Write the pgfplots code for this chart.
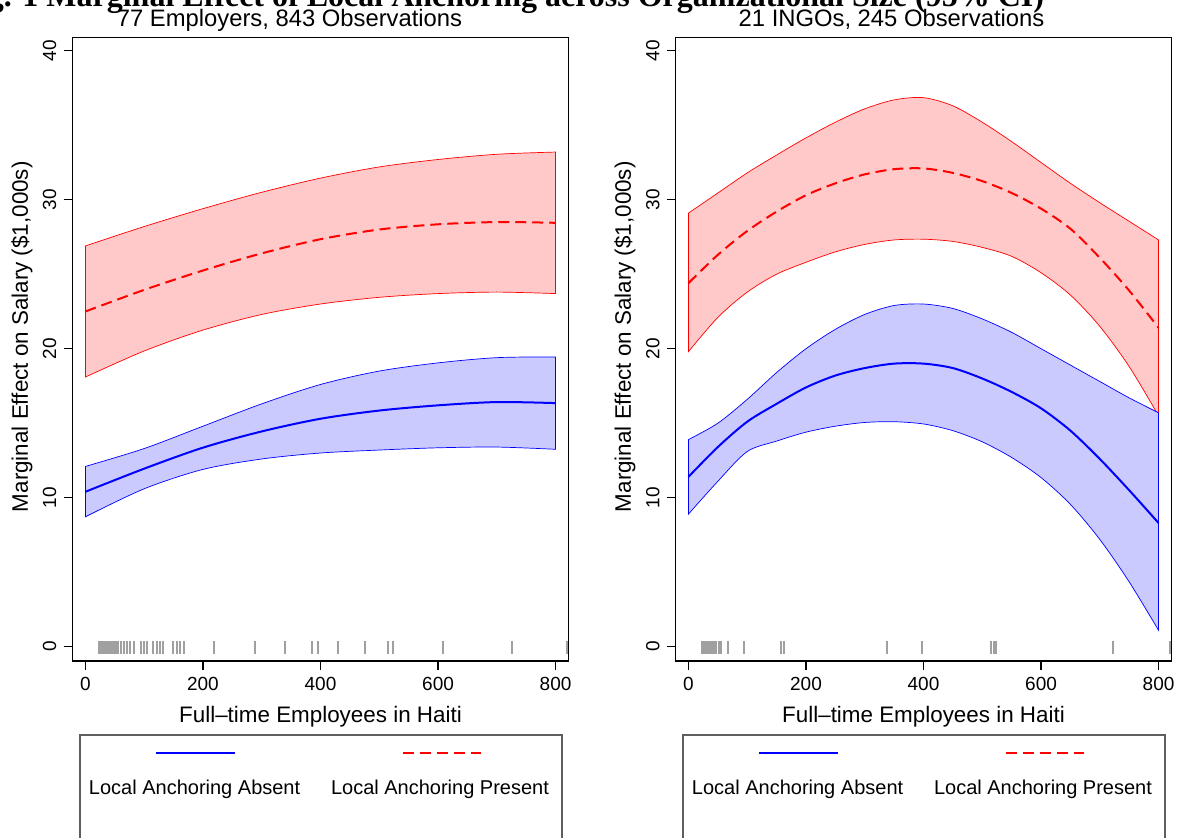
\documentclass[border=0pt]{standalone}
\usepackage{pgfplots}
\pgfplotsset{compat=1.18}
\usepgfplotslibrary{fillbetween}
\usepackage{pgfplotstable}
\usepackage{fontspec}
\setmainfont{Liberation Sans}
\newfontfamily\titlefont{Liberation Serif}

\definecolor{bandred}{RGB}{255,201,201}
\definecolor{bandblue}{RGB}{202,202,255}
\definecolor{rugc}{RGB}{160,160,160}
\definecolor{boxc}{RGB}{95,95,95}

\pgfplotstableread{
x bl bm bu rl rm ru
0 8.72 10.4 12.1 18.1 22.5 26.9
100 10.6 11.95 13.3 19.85 23.95 28.2
200 11.9 13.36 14.8 21.25 25.25 29.4
300 12.6 14.45 16.3 22.3 26.4 30.5
400 13.0 15.3 17.6 23.0 27.35 31.45
500 13.2 15.85 18.5 23.45 28.0 32.2
600 13.35 16.2 19.05 23.7 28.35 32.7
700 13.4 16.42 19.4 23.8 28.5 33.05
800 13.25 16.35 19.45 23.7 28.45 33.2
}\leftdata

\pgfplotstableread{
x bl bm bu rl rm ru
0 8.9 11.4 13.9 19.8 24.4 29.1
50 11.1 13.4 15.0 22.1 26.3 30.45
100 13.1 15.1 16.6 23.8 27.9 31.8
150 13.8 16.3 18.4 25.0 29.2 33.0
200 14.4 17.4 20.0 25.8 30.3 34.15
250 14.8 18.2 21.3 26.5 31.1 35.2
300 15.05 18.7 22.3 27.0 31.7 36.1
350 15.1 19.0 22.9 27.3 32.05 36.7
400 14.95 19.0 23.0 27.35 32.1 36.85
450 14.5 18.7 22.7 27.2 31.8 36.3
500 13.75 18.0 22.0 26.8 31.25 35.2
550 12.7 17.1 21.1 26.2 30.45 33.9
600 11.35 16.0 20.0 25.1 29.4 32.5
650 9.55 14.5 18.9 23.6 28.05 31.1
700 7.2 12.6 17.8 21.5 26.1 29.8
750 4.35 10.5 16.7 18.8 23.9 28.55
800 1.1 8.3 15.7 15.5 21.4 27.3
}\rightdata

\pgfplotsset{panel/.style={
  scale only axis, width=248pt, height=311.85pt,
  xmin=-22, xmax=822, ymin=-0.96, ymax=40.9,
  xtick={0,200,400,600,800}, ytick={0,10,20,30,40},
  xtick pos=bottom, ytick pos=left,
  tick align=outside, major tick length=4.5pt,
  axis line style={line width=0.75pt},
  every tick/.style={black, line width=0.6pt},
  /pgf/number format/assume math mode=true,
  tick label style={font=\fontsize{9.5}{11}\selectfont},
  yticklabel style={rotate=90, anchor=south},
  xticklabel style={anchor=north},
  label style={font=\fontsize{11.2}{13}\selectfont},
  xlabel={Full--time Employees in Haiti},
  ylabel={Marginal Effect on Salary (\$1,000s)},
  xlabel style={at={(axis description cs:0.5,0)}, anchor=base, yshift=-30.5pt},
  ylabel style={at={(axis description cs:-0.102,0.52)}, anchor=center},
  clip=false,
}}

\begin{document}
\begin{tikzpicture}

\node[font=\titlefont\bfseries\fontsize{16}{18}\selectfont, anchor=base east] at (525.5pt,-3pt) {Fig. 1 Marginal Effect of Local Anchoring across Organizational Size (95\% CI)};
\node[font=\fontsize{11.9}{14}\selectfont, anchor=base] at (144.75pt,-13.4pt) {77 Employers, 843 Observations};
\node[font=\fontsize{11.9}{14}\selectfont, anchor=base] at (445.75pt,-13.4pt) {21 INGOs, 245 Observations};

% left panel
\begin{axis}[panel, at={(36.25pt,-330.5pt)}, anchor=south west]
\addplot[draw=none, name path=ru, smooth] table[x=x,y=ru]{\leftdata};
\addplot[draw=none, name path=rl, smooth] table[x=x,y=rl]{\leftdata};
\addplot[fill=bandred, draw=red, line width=0.35pt] fill between[of=ru and rl];
\addplot[draw=none, name path=bu, smooth] table[x=x,y=bu]{\leftdata};
\addplot[draw=none, name path=bl, smooth] table[x=x,y=bl]{\leftdata};
\addplot[fill=bandblue, draw=blue, line width=0.35pt] fill between[of=bu and bl];
\addplot[blue, line width=1pt, smooth] table[x=x,y=bm]{\leftdata};
\addplot[red, line width=1pt, dash pattern=on 5.5pt off 3pt, smooth] table[x=x,y=rm]{\leftdata};
\addplot[only marks, mark=|, mark size=3.25pt, color=rugc, mark options={line width=1pt}] coordinates {
(23,-0.05)(25,-0.05)(27,-0.05)(29,-0.05)(31,-0.05)(33,-0.05)(35,-0.05)(37,-0.05)(39,-0.05)(41,-0.05)(43,-0.05)(45,-0.05)(47,-0.05)(49,-0.05)(51,-0.05)(53,-0.05)(55,-0.05)(56,-0.05)
(61,-0.05)(65,-0.05)(70,-0.05)(75,-0.05)(82,-0.05)(95,-0.05)(99,-0.05)(104,-0.05)(115,-0.05)(121,-0.05)(127,-0.05)(132,-0.05)
(149,-0.05)(155,-0.05)(161,-0.05)(167,-0.05)(218,-0.05)(288,-0.05)(339,-0.05)(385,-0.05)(396,-0.05)(430,-0.05)(475,-0.05)
(515,-0.05)(524,-0.05)(608,-0.05)(725,-0.05)(820,-0.05)};
\end{axis}

% right panel
\begin{axis}[panel, at={(337.75pt,-330.5pt)}, anchor=south west]
\addplot[draw=none, name path=ru, smooth] table[x=x,y=ru]{\rightdata};
\addplot[draw=none, name path=rl, smooth] table[x=x,y=rl]{\rightdata};
\addplot[fill=bandred, draw=red, line width=0.35pt] fill between[of=ru and rl];
\addplot[draw=none, name path=bu, smooth] table[x=x,y=bu]{\rightdata};
\addplot[draw=none, name path=bl, smooth] table[x=x,y=bl]{\rightdata};
\addplot[fill=bandblue, draw=blue, line width=0.35pt] fill between[of=bu and bl];
\addplot[blue, line width=1pt, smooth] table[x=x,y=bm]{\rightdata};
\addplot[red, line width=1pt, dash pattern=on 5.5pt off 3pt, smooth] table[x=x,y=rm]{\rightdata};
\addplot[only marks, mark=|, mark size=3.25pt, color=rugc, mark options={line width=1pt}] coordinates {
(23,-0.05)(25,-0.05)(27,-0.05)(29,-0.05)(31,-0.05)(33,-0.05)(35,-0.05)(37,-0.05)(39,-0.05)(41,-0.05)(43,-0.05)(44,-0.05)
(47,-0.05)(52,-0.05)(56,-0.05)(67,-0.05)(95,-0.05)(158,-0.05)(163,-0.05)(338,-0.05)(397,-0.05)
(515,-0.05)(520,-0.05)(524,-0.05)(723,-0.05)(820,-0.05)};
\end{axis}

% legends
\draw[boxc, line width=0.6pt] (40pt,-367.5pt) rectangle (281pt,-430pt);
\draw[blue, line width=1pt] (78.15pt,-376.65pt) -- (117.35pt,-376.65pt);
\draw[red, line width=1pt, dash pattern=on 5.5pt off 3pt] (201.35pt,-376.65pt) -- (240.5pt,-376.65pt);
\node[font=\fontsize{10}{12}\selectfont, anchor=base] at (97.3pt,-397pt) {Local Anchoring Absent};
\node[font=\fontsize{10}{12}\selectfont, anchor=base] at (220pt,-397pt) {Local Anchoring Present};

\draw[boxc, line width=0.6pt] (341.5pt,-367.5pt) rectangle (582.5pt,-430pt);
\draw[blue, line width=1pt] (379.65pt,-376.65pt) -- (418.85pt,-376.65pt);
\draw[red, line width=1pt, dash pattern=on 5.5pt off 3pt] (502.85pt,-376.65pt) -- (542pt,-376.65pt);
\node[font=\fontsize{10}{12}\selectfont, anchor=base] at (398.8pt,-397pt) {Local Anchoring Absent};
\node[font=\fontsize{10}{12}\selectfont, anchor=base] at (521.5pt,-397pt) {Local Anchoring Present};

\pgfresetboundingbox
\path[use as bounding box] (0,0) rectangle (588.5pt,-418.5pt);
\end{tikzpicture}
\end{document}
